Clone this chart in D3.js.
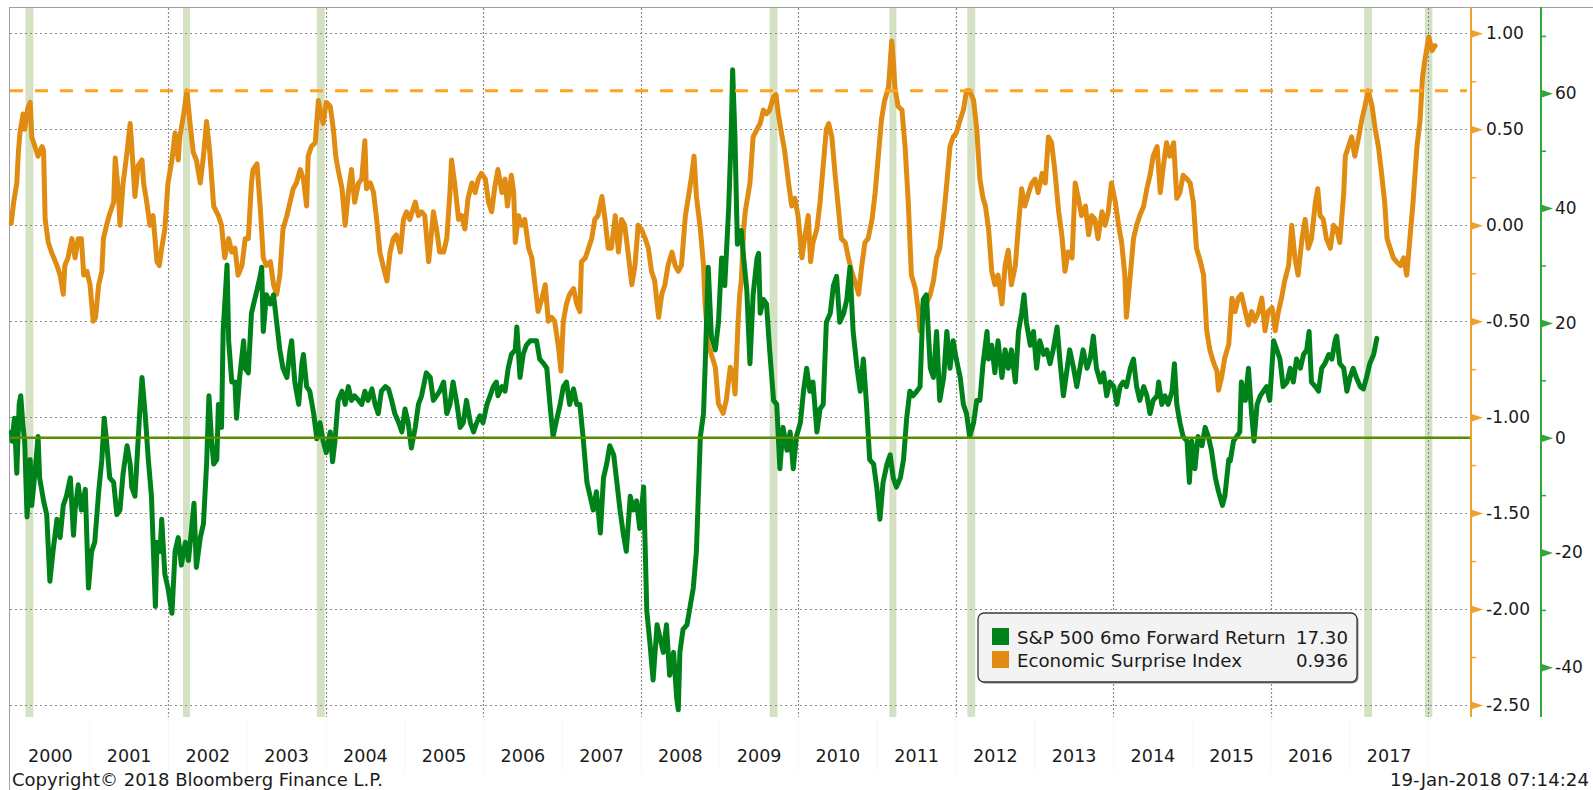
<!DOCTYPE html>
<html><head><meta charset="utf-8">
<script src="https://cdn.jsdelivr.net/npm/d3@7"></script>
<style>
html,body{margin:0;padding:0;background:#fff;overflow:hidden;}
svg{display:block;}
text{font-family:"DejaVu Sans",Verdana,sans-serif;}
</style></head><body>
<svg id="chart" width="1593" height="790"></svg>
<script>
// ---------- DATA ----------
const yearLabels = ["2000","2001","2002","2003","2004","2005","2006","2007","2008","2009","2010","2011","2012","2013","2014","2015","2016","2017"];
const esiTicks = [-2.5,-2.0,-1.5,-1.0,-0.5,0.0,0.5,1.0];
const esiMinor = [-2.25,-1.75,-1.25,-0.75,-0.25,0.25,0.75];
const spxTicks = [-40,-20,0,20,40,60];
const spxMinor = [-30,-10,10,30,50,70];
const gridYears = [2002,2004,2006,2008,2010,2012,2014,2016,2018];
const esiThreshold = 0.70;
const spxZero = 0;
// periods highlighted (decimal years)
const highlightBands = [[2000.19,2000.29],[2002.19,2002.28],[2003.89,2003.99],[2009.64,2009.74],[2011.16,2011.25],[2012.15,2012.25],[2017.19,2017.29],[2017.96,2018.055]];
const legendNames = ["S&P 500 6mo Forward Return","Economic Surprise Index"];
const legendValues = ["17.30","0.936"];
const footerLeft = "Copyright\u00A9 2018 Bloomberg Finance L.P.";
const footerRight = "19-Jan-2018 07:14:24";

// Economic Surprise Index [decimal year, value]
const esi = [[2000.01,0.01],[2000.04,0.12],[2000.08,0.22],[2000.10,0.38],[2000.12,0.48],[2000.16,0.58],[2000.18,0.50],[2000.22,0.61],[2000.25,0.64],[2000.27,0.46],[2000.31,0.41],[2000.35,0.36],[2000.40,0.41],[2000.42,0.39],[2000.44,0.03],[2000.48,-0.09],[2000.52,-0.14],[2000.59,-0.21],[2000.63,-0.26],[2000.67,-0.36],[2000.69,-0.21],[2000.73,-0.17],[2000.78,-0.07],[2000.82,-0.17],[2000.86,-0.07],[2000.90,-0.07],[2000.93,-0.26],[2000.97,-0.24],[2001.01,-0.31],[2001.05,-0.50],[2001.08,-0.48],[2001.12,-0.31],[2001.16,-0.24],[2001.18,-0.07],[2001.22,0.00],[2001.26,0.06],[2001.31,0.12],[2001.33,0.35],[2001.37,0.17],[2001.39,0.00],[2001.43,0.22],[2001.48,0.38],[2001.52,0.53],[2001.54,0.41],[2001.58,0.15],[2001.62,0.31],[2001.67,0.34],[2001.69,0.22],[2001.73,0.12],[2001.77,0.00],[2001.81,0.05],[2001.86,-0.19],[2001.89,-0.21],[2001.92,-0.12],[2001.96,-0.02],[2002.00,0.22],[2002.05,0.34],[2002.09,0.48],[2002.13,0.34],[2002.15,0.46],[2002.20,0.58],[2002.24,0.70],[2002.28,0.53],[2002.32,0.38],[2002.36,0.34],[2002.41,0.22],[2002.45,0.36],[2002.49,0.54],[2002.53,0.38],[2002.58,0.10],[2002.64,0.05],[2002.68,0.00],[2002.72,-0.17],[2002.77,-0.07],[2002.81,-0.14],[2002.85,-0.12],[2002.89,-0.26],[2002.94,-0.21],[2002.98,-0.07],[2003.02,-0.07],[2003.06,0.22],[2003.08,0.29],[2003.13,0.32],[2003.17,0.10],[2003.21,-0.17],[2003.25,-0.21],[2003.30,-0.19],[2003.34,-0.31],[2003.38,-0.36],[2003.42,-0.26],[2003.46,-0.02],[2003.51,0.05],[2003.55,0.12],[2003.59,0.19],[2003.63,0.22],[2003.68,0.29],[2003.72,0.24],[2003.76,0.10],[2003.78,0.36],[2003.82,0.41],[2003.87,0.43],[2003.91,0.65],[2003.94,0.58],[2003.97,0.53],[2004.01,0.64],[2004.06,0.62],[2004.10,0.50],[2004.13,0.36],[2004.16,0.29],[2004.21,0.19],[2004.25,0.00],[2004.29,0.17],[2004.33,0.29],[2004.37,0.12],[2004.42,0.22],[2004.46,0.24],[2004.50,0.44],[2004.52,0.19],[2004.57,0.22],[2004.61,0.17],[2004.65,0.03],[2004.69,-0.14],[2004.73,-0.21],[2004.78,-0.29],[2004.82,-0.14],[2004.86,-0.07],[2004.90,-0.05],[2004.95,-0.14],[2004.99,0.03],[2005.03,0.07],[2005.07,0.03],[2005.14,0.12],[2005.18,0.05],[2005.22,0.07],[2005.26,0.05],[2005.31,-0.19],[2005.35,-0.02],[2005.37,0.07],[2005.41,-0.02],[2005.45,-0.14],[2005.50,-0.14],[2005.54,-0.07],[2005.58,0.17],[2005.60,0.34],[2005.64,0.22],[2005.69,0.03],[2005.73,0.05],[2005.77,-0.02],[2005.81,0.14],[2005.86,0.22],[2005.90,0.17],[2005.94,0.24],[2005.98,0.27],[2006.03,0.24],[2006.07,0.12],[2006.11,0.07],[2006.15,0.20],[2006.19,0.29],[2006.24,0.17],[2006.28,0.24],[2006.31,0.10],[2006.36,0.26],[2006.39,0.17],[2006.41,-0.09],[2006.45,0.05],[2006.49,0.00],[2006.53,0.03],[2006.58,-0.12],[2006.62,-0.17],[2006.66,-0.31],[2006.70,-0.45],[2006.75,-0.38],[2006.79,-0.31],[2006.83,-0.50],[2006.87,-0.48],[2006.91,-0.50],[2006.96,-0.64],[2006.99,-0.76],[2007.02,-0.50],[2007.06,-0.41],[2007.10,-0.36],[2007.15,-0.33],[2007.19,-0.41],[2007.23,-0.45],[2007.25,-0.19],[2007.30,-0.17],[2007.34,-0.12],[2007.38,-0.07],[2007.42,0.03],[2007.46,0.05],[2007.51,0.15],[2007.55,0.03],[2007.59,-0.12],[2007.63,-0.12],[2007.68,0.05],[2007.72,-0.14],[2007.76,0.03],[2007.80,0.00],[2007.85,-0.17],[2007.89,-0.31],[2007.93,-0.21],[2007.97,0.00],[2008.01,-0.02],[2008.06,-0.07],[2008.10,-0.12],[2008.14,-0.24],[2008.18,-0.29],[2008.23,-0.48],[2008.27,-0.36],[2008.31,-0.31],[2008.35,-0.21],[2008.40,-0.14],[2008.44,-0.21],[2008.48,-0.24],[2008.52,-0.21],[2008.57,0.05],[2008.61,0.15],[2008.65,0.26],[2008.68,0.36],[2008.71,0.15],[2008.76,-0.02],[2008.80,-0.21],[2008.82,-0.41],[2008.86,-0.62],[2008.95,-0.74],[2008.99,-0.93],[2009.05,-0.98],[2009.09,-0.91],[2009.14,-0.74],[2009.18,-0.79],[2009.20,-0.88],[2009.24,-0.50],[2009.26,-0.36],[2009.28,-0.29],[2009.31,-0.02],[2009.33,0.07],[2009.35,0.12],[2009.39,0.22],[2009.43,0.46],[2009.48,0.50],[2009.52,0.53],[2009.56,0.60],[2009.60,0.58],[2009.64,0.60],[2009.69,0.67],[2009.72,0.68],[2009.75,0.58],[2009.79,0.48],[2009.83,0.39],[2009.88,0.22],[2009.92,0.10],[2009.96,0.14],[2010.00,0.05],[2010.05,-0.17],[2010.09,-0.05],[2010.13,0.05],[2010.16,-0.19],[2010.19,-0.09],[2010.24,-0.02],[2010.28,0.12],[2010.32,0.31],[2010.36,0.50],[2010.39,0.53],[2010.43,0.46],[2010.47,0.27],[2010.51,0.10],[2010.55,-0.07],[2010.60,-0.09],[2010.64,-0.17],[2010.68,-0.24],[2010.72,-0.29],[2010.77,-0.36],[2010.81,-0.21],[2010.85,-0.09],[2010.89,-0.07],[2010.94,0.03],[2010.98,0.17],[2011.02,0.36],[2011.06,0.55],[2011.10,0.65],[2011.15,0.72],[2011.19,0.96],[2011.21,0.86],[2011.23,0.72],[2011.27,0.62],[2011.32,0.60],[2011.36,0.41],[2011.40,0.12],[2011.44,-0.26],[2011.49,-0.33],[2011.53,-0.45],[2011.55,-0.55],[2011.59,-0.41],[2011.63,-0.41],[2011.68,-0.36],[2011.72,-0.29],[2011.76,-0.17],[2011.80,-0.12],[2011.85,0.05],[2011.89,0.22],[2011.93,0.41],[2011.97,0.46],[2012.01,0.48],[2012.06,0.55],[2012.10,0.60],[2012.14,0.70],[2012.18,0.70],[2012.23,0.65],[2012.27,0.50],[2012.31,0.24],[2012.35,0.14],[2012.38,0.10],[2012.42,-0.02],[2012.46,-0.24],[2012.50,-0.31],[2012.54,-0.26],[2012.59,-0.41],[2012.63,-0.21],[2012.67,-0.13],[2012.71,-0.31],[2012.76,-0.21],[2012.80,0.00],[2012.84,0.19],[2012.88,0.10],[2012.93,0.17],[2012.97,0.22],[2013.01,0.24],[2013.05,0.17],[2013.10,0.27],[2013.14,0.22],[2013.18,0.46],[2013.22,0.43],[2013.26,0.29],[2013.31,0.07],[2013.35,-0.05],[2013.39,-0.24],[2013.43,-0.14],[2013.48,-0.17],[2013.52,0.22],[2013.56,0.14],[2013.60,0.05],[2013.65,0.10],[2013.69,-0.05],[2013.73,0.05],[2013.77,0.03],[2013.81,-0.07],[2013.86,0.07],[2013.90,0.00],[2013.94,0.07],[2013.98,0.22],[2014.03,0.12],[2014.07,0.00],[2014.11,-0.09],[2014.15,-0.26],[2014.17,-0.48],[2014.22,-0.26],[2014.26,-0.07],[2014.30,0.00],[2014.34,0.05],[2014.39,0.10],[2014.43,0.19],[2014.47,0.26],[2014.51,0.36],[2014.56,0.41],[2014.60,0.17],[2014.64,0.31],[2014.68,0.43],[2014.72,0.36],[2014.77,0.43],[2014.81,0.14],[2014.85,0.17],[2014.89,0.26],[2014.94,0.24],[2014.98,0.22],[2015.02,0.12],[2015.06,-0.12],[2015.11,-0.19],[2015.15,-0.26],[2015.19,-0.55],[2015.23,-0.65],[2015.28,-0.72],[2015.32,-0.76],[2015.34,-0.86],[2015.38,-0.79],[2015.42,-0.69],[2015.47,-0.62],[2015.51,-0.38],[2015.55,-0.45],[2015.59,-0.38],[2015.63,-0.36],[2015.68,-0.45],[2015.72,-0.52],[2015.76,-0.45],[2015.80,-0.50],[2015.85,-0.45],[2015.89,-0.38],[2015.93,-0.55],[2015.97,-0.45],[2016.02,-0.43],[2016.06,-0.55],[2016.10,-0.45],[2016.14,-0.38],[2016.18,-0.29],[2016.23,-0.21],[2016.27,0.00],[2016.31,-0.17],[2016.35,-0.26],[2016.40,-0.07],[2016.44,0.03],[2016.48,-0.12],[2016.52,-0.07],[2016.57,0.12],[2016.60,0.19],[2016.63,0.05],[2016.67,0.03],[2016.71,-0.07],[2016.76,-0.12],[2016.80,0.00],[2016.84,-0.02],[2016.88,-0.09],[2016.93,0.17],[2016.95,0.36],[2016.99,0.41],[2017.03,0.46],[2017.07,0.36],[2017.12,0.46],[2017.16,0.55],[2017.20,0.62],[2017.24,0.70],[2017.29,0.62],[2017.33,0.50],[2017.37,0.41],[2017.41,0.27],[2017.45,0.12],[2017.48,-0.07],[2017.52,-0.12],[2017.56,-0.17],[2017.60,-0.19],[2017.65,-0.21],[2017.69,-0.17],[2017.73,-0.26],[2017.77,-0.07],[2017.81,0.12],[2017.86,0.41],[2017.90,0.55],[2017.93,0.77],[2017.96,0.86],[2018.01,0.98],[2018.05,0.91],[2018.09,0.936]];

// S&P 500 6-month forward return [decimal year, %]
const spx = [[2000.01,1.0],[2000.02,-0.6],[2000.05,3.4],[2000.08,-6.2],[2000.11,5.8],[2000.13,7.3],[2000.16,1.8],[2000.18,-0.6],[2000.21,-13.8],[2000.25,-3.8],[2000.27,-11.8],[2000.31,-6.2],[2000.35,0.2],[2000.37,-7.0],[2000.42,-11.0],[2000.46,-13.4],[2000.50,-25.0],[2000.54,-19.8],[2000.59,-14.2],[2000.63,-17.4],[2000.67,-11.8],[2000.71,-10.2],[2000.76,-7.0],[2000.80,-17.0],[2000.82,-12.6],[2000.86,-8.2],[2000.90,-12.6],[2000.95,-9.0],[2000.99,-26.2],[2001.03,-19.8],[2001.07,-18.2],[2001.12,-9.4],[2001.16,-3.8],[2001.19,3.4],[2001.22,-0.6],[2001.26,-7.0],[2001.31,-7.8],[2001.35,-13.4],[2001.39,-12.6],[2001.43,-6.2],[2001.48,-1.4],[2001.52,-4.6],[2001.54,-8.6],[2001.58,-10.2],[2001.62,-0.6],[2001.64,4.2],[2001.67,10.5],[2001.71,4.2],[2001.75,-3.8],[2001.79,-10.2],[2001.84,-29.4],[2001.86,-18.2],[2001.90,-19.8],[2001.92,-14.2],[2001.96,-23.8],[2002.00,-26.2],[2002.05,-30.6],[2002.09,-19.8],[2002.13,-17.4],[2002.17,-22.2],[2002.22,-18.2],[2002.26,-21.4],[2002.30,-15.8],[2002.33,-11.4],[2002.36,-22.6],[2002.41,-17.4],[2002.45,-15.0],[2002.49,-4.6],[2002.52,7.3],[2002.55,0.2],[2002.58,-4.6],[2002.62,-3.8],[2002.64,5.8],[2002.68,1.8],[2002.70,18.5],[2002.75,30.1],[2002.77,16.9],[2002.81,9.7],[2002.85,9.7],[2002.87,3.4],[2002.91,10.5],[2002.96,16.9],[2002.98,12.1],[2003.02,11.3],[2003.06,21.7],[2003.10,24.0],[2003.13,25.7],[2003.17,28.1],[2003.19,29.7],[2003.21,18.5],[2003.25,24.9],[2003.30,23.3],[2003.34,24.9],[2003.38,20.1],[2003.42,15.3],[2003.46,12.1],[2003.51,10.5],[2003.55,15.3],[2003.57,16.9],[2003.61,9.7],[2003.66,5.8],[2003.70,12.9],[2003.72,14.5],[2003.76,8.9],[2003.80,8.1],[2003.85,4.2],[2003.89,-0.2],[2003.93,2.6],[2003.97,-0.6],[2004.01,-2.6],[2004.06,1.0],[2004.09,-4.2],[2004.12,-0.6],[2004.16,6.5],[2004.21,8.1],[2004.25,5.8],[2004.29,8.9],[2004.33,6.5],[2004.37,7.3],[2004.42,6.5],[2004.46,5.8],[2004.50,8.1],[2004.54,6.5],[2004.59,8.5],[2004.63,5.8],[2004.67,4.2],[2004.71,8.1],[2004.76,8.9],[2004.80,8.5],[2004.84,6.5],[2004.88,4.2],[2004.93,2.6],[2004.97,1.0],[2005.01,5.0],[2005.05,2.6],[2005.09,-1.8],[2005.14,1.8],[2005.18,5.8],[2005.22,7.3],[2005.28,11.3],[2005.33,10.5],[2005.37,6.5],[2005.41,7.3],[2005.45,8.1],[2005.50,9.7],[2005.54,4.2],[2005.58,5.8],[2005.62,9.7],[2005.67,5.8],[2005.71,1.8],[2005.75,2.6],[2005.79,6.5],[2005.84,2.6],[2005.88,1.0],[2005.92,2.6],[2005.96,3.8],[2006.00,2.6],[2006.05,5.8],[2006.09,7.3],[2006.13,8.9],[2006.17,9.7],[2006.19,7.3],[2006.24,8.9],[2006.28,8.1],[2006.32,12.1],[2006.36,14.5],[2006.41,15.3],[2006.43,19.3],[2006.47,10.5],[2006.51,14.5],[2006.55,16.1],[2006.60,16.9],[2006.64,16.9],[2006.68,16.9],[2006.72,13.7],[2006.77,12.9],[2006.81,12.1],[2006.85,5.8],[2006.89,0.2],[2006.94,3.4],[2006.98,5.8],[2007.02,8.9],[2007.06,9.7],[2007.10,5.8],[2007.15,8.5],[2007.19,5.8],[2007.23,5.8],[2007.27,0.2],[2007.32,-7.8],[2007.36,-10.2],[2007.40,-12.6],[2007.44,-9.4],[2007.49,-16.6],[2007.53,-7.0],[2007.57,-4.6],[2007.61,-1.4],[2007.66,-3.0],[2007.70,-7.8],[2007.74,-12.6],[2007.78,-16.6],[2007.82,-19.8],[2007.87,-10.2],[2007.91,-12.6],[2007.95,-11.0],[2007.99,-15.8],[2008.04,-8.6],[2008.08,-30.2],[2008.12,-35.8],[2008.16,-42.2],[2008.21,-32.6],[2008.25,-35.0],[2008.29,-37.4],[2008.33,-32.6],[2008.37,-41.4],[2008.42,-37.4],[2008.46,-45.4],[2008.48,-47.4],[2008.50,-37.4],[2008.54,-33.4],[2008.59,-32.6],[2008.63,-29.4],[2008.67,-26.2],[2008.71,-19.8],[2008.76,0.2],[2008.80,4.2],[2008.82,12.1],[2008.86,29.7],[2008.90,17.7],[2008.95,15.3],[2008.99,20.1],[2009.03,31.3],[2009.07,26.5],[2009.12,40.1],[2009.15,52.1],[2009.17,64.1],[2009.20,52.1],[2009.23,33.7],[2009.26,34.5],[2009.28,36.1],[2009.31,31.3],[2009.35,25.7],[2009.39,12.9],[2009.43,24.9],[2009.48,31.3],[2009.50,32.1],[2009.52,21.7],[2009.56,24.1],[2009.60,23.3],[2009.64,15.3],[2009.69,6.5],[2009.73,5.8],[2009.77,-5.4],[2009.81,1.8],[2009.86,-2.2],[2009.90,1.0],[2009.94,-5.4],[2009.98,0.2],[2010.03,2.6],[2010.07,8.1],[2010.11,12.1],[2010.15,8.1],[2010.19,9.7],[2010.24,1.0],[2010.28,5.0],[2010.32,5.8],[2010.36,20.1],[2010.41,21.7],[2010.45,26.5],[2010.49,28.1],[2010.53,20.1],[2010.58,21.7],[2010.62,24.1],[2010.66,29.7],[2010.70,18.5],[2010.75,12.1],[2010.79,8.1],[2010.83,13.7],[2010.87,5.8],[2010.91,-3.8],[2010.96,-4.6],[2011.00,-8.6],[2011.04,-14.2],[2011.08,-7.8],[2011.13,-4.6],[2011.17,-3.0],[2011.21,-7.0],[2011.25,-8.6],[2011.30,-7.0],[2011.34,-3.8],[2011.38,3.4],[2011.42,8.1],[2011.46,7.3],[2011.51,8.1],[2011.55,8.9],[2011.59,24.1],[2011.63,24.9],[2011.68,12.1],[2011.72,10.5],[2011.76,18.5],[2011.80,6.5],[2011.85,10.5],[2011.89,18.5],[2011.93,12.1],[2011.97,16.9],[2012.01,13.7],[2012.06,10.5],[2012.10,5.8],[2012.14,4.2],[2012.18,0.2],[2012.23,2.6],[2012.27,6.5],[2012.31,6.5],[2012.35,12.9],[2012.40,18.5],[2012.42,13.7],[2012.46,16.1],[2012.50,11.3],[2012.54,16.9],[2012.59,10.5],[2012.63,15.3],[2012.67,12.1],[2012.71,15.3],[2012.76,9.7],[2012.80,18.5],[2012.84,21.7],[2012.87,24.9],[2012.90,20.1],[2012.95,16.1],[2012.99,18.5],[2013.03,12.1],[2013.07,16.9],[2013.12,14.5],[2013.16,15.3],[2013.20,12.9],[2013.24,15.3],[2013.29,19.3],[2013.33,12.9],[2013.37,7.3],[2013.41,11.3],[2013.45,15.3],[2013.50,12.1],[2013.54,8.9],[2013.58,12.1],[2013.62,15.3],[2013.67,12.1],[2013.71,13.7],[2013.75,17.7],[2013.79,12.1],[2013.84,9.7],[2013.88,11.3],[2013.92,7.3],[2013.96,9.7],[2014.01,8.9],[2014.05,5.8],[2014.09,8.9],[2014.13,9.7],[2014.17,8.9],[2014.22,12.1],[2014.26,13.7],[2014.30,8.9],[2014.34,6.5],[2014.39,8.9],[2014.43,7.3],[2014.47,4.2],[2014.51,6.5],[2014.56,7.3],[2014.58,9.7],[2014.62,5.8],[2014.66,7.3],[2014.70,5.8],[2014.75,8.1],[2014.78,12.9],[2014.81,5.8],[2014.85,2.6],[2014.89,0.2],[2014.94,-0.6],[2014.97,-7.8],[2015.00,-0.6],[2015.04,-5.4],[2015.08,0.2],[2015.13,-1.4],[2015.17,1.8],[2015.21,0.2],[2015.25,-2.2],[2015.30,-7.0],[2015.34,-9.4],[2015.39,-11.8],[2015.42,-10.2],[2015.47,-3.8],[2015.49,-4.0],[2015.53,-0.6],[2015.57,0.2],[2015.61,1.0],[2015.63,9.7],[2015.68,6.5],[2015.72,12.1],[2015.76,4.2],[2015.79,-0.6],[2015.83,5.8],[2015.87,7.3],[2015.91,8.1],[2015.95,8.9],[2015.99,6.5],[2016.04,16.9],[2016.08,15.3],[2016.12,13.7],[2016.16,8.9],[2016.21,9.7],[2016.25,12.1],[2016.29,9.7],[2016.33,13.7],[2016.38,12.1],[2016.42,14.5],[2016.46,15.3],[2016.49,18.5],[2016.52,9.7],[2016.57,8.9],[2016.61,8.1],[2016.65,12.1],[2016.69,12.9],[2016.74,14.5],[2016.78,13.7],[2016.82,16.9],[2016.84,17.7],[2016.88,12.9],[2016.93,12.1],[2016.97,8.1],[2017.01,10.5],[2017.05,12.1],[2017.09,10.5],[2017.14,8.9],[2017.18,8.5],[2017.22,10.5],[2017.26,12.9],[2017.31,14.5],[2017.35,17.3]];

// ---------- STYLE ----------
const C = {
  esi:"#e08c12", spx:"#00821a", esiAxis:"#f0a030", spxAxis:"#2ea836",
  band:"#d4e1c3", grid:"#8a8a8a", zero:"#5a8c00", thresh:"#ffa31a", text:"#1b1b1b", frame:"#a0a0a0"
};
const svg = d3.select("#chart");
const P = {left:10, right:1471, top:7, bottom:717};

const x = d3.scaleLinear().domain([2000, 2018.546]).range([10.5, 1471]);
const yL = d3.scaleLinear().domain([-2.5, 1]).range([705, 33.3]);
const yR = d3.scaleLinear().domain([-40, 60]).range([667.3, 93.3]);

// frame
svg.append("line").attr("x1",9).attr("x2",1593).attr("y1",7.5).attr("y2",7.5).attr("stroke",C.frame);
svg.append("line").attr("x1",9.5).attr("x2",9.5).attr("y1",7).attr("y2",790).attr("stroke",C.frame);

// highlight bands
svg.append("g").selectAll("rect").data(highlightBands).join("rect")
  .attr("x", d => x(d[0])).attr("width", d => x(d[1]) - x(d[0]))
  .attr("y", P.top+1).attr("height", P.bottom - P.top - 1)
  .attr("fill", C.band);

// faint year separators in label area
const sep = svg.append("g").attr("transform",`translate(0,${P.bottom})`)
  .call(d3.axisBottom(x).tickValues(d3.range(2001, 2019)).tickSize(55).tickFormat(""));
sep.select(".domain").remove();
sep.selectAll("line").attr("stroke","#f7f7f7");

// grid
svg.append("g").selectAll("line").data(esiTicks).join("line")
  .attr("x1", P.left).attr("x2", P.right).attr("y1", d => Math.round(yL(d))+0.5).attr("y2", d => Math.round(yL(d))+0.5)
  .attr("stroke", C.grid).attr("stroke-width",1).attr("stroke-dasharray","2,3");
svg.append("g").selectAll("line").data(gridYears).join("line")
  .attr("x1", d => Math.round(x(d))+0.5).attr("x2", d => Math.round(x(d))+0.5).attr("y1", P.top+1).attr("y2", P.bottom)
  .attr("stroke", C.grid).attr("stroke-width",1.2).attr("stroke-dasharray","2,2");

// series
const lineL = d3.line().x(d => x(d[0])).y(d => yL(d[1]));
const lineR = d3.line().x(d => x(d[0])).y(d => yR(d[1]));
svg.append("path").datum(esi).attr("d", lineL).attr("fill","none").attr("stroke",C.esi)
  .attr("stroke-width",5).attr("stroke-linejoin","round").attr("stroke-linecap","round");
svg.append("path").datum(spx).attr("d", lineR).attr("fill","none").attr("stroke",C.spx)
  .attr("stroke-width",5).attr("stroke-linejoin","round").attr("stroke-linecap","round");

// reference lines
svg.append("line").attr("x1",P.left).attr("x2",P.right).attr("y1",yR(spxZero)).attr("y2",yR(spxZero))
  .attr("stroke",C.zero).attr("stroke-width",2.4);
svg.append("line").attr("x1",P.left).attr("x2",P.right-4).attr("y1",yL(esiThreshold)).attr("y2",yL(esiThreshold))
  .attr("stroke",C.thresh).attr("stroke-width",3).attr("stroke-dasharray","13,12");

// axes
function styleAxis(g, color){
  g.select(".domain").remove();
  g.attr("font-family","DejaVu Sans, Verdana, sans-serif").attr("font-size",17);
  g.selectAll("text").attr("fill",C.text);
  g.selectAll(".tick line").remove();
  g.selectAll(".tick").append("path").attr("d","M0,-4L12,0L0,4Z").attr("fill",color);
}
svg.append("line").attr("x1",P.right).attr("x2",P.right).attr("y1",P.top).attr("y2",P.bottom).attr("stroke",C.esiAxis).attr("stroke-width",2);
const gL = svg.append("g").attr("transform",`translate(${P.right},0)`)
  .call(d3.axisRight(yL).tickValues(esiTicks).tickSize(0).tickPadding(15).tickFormat(d => d.toFixed(2)));
styleAxis(gL, C.esiAxis);
const gLm = svg.append("g").attr("transform",`translate(${P.right},0)`)
  .call(d3.axisRight(yL).tickValues(esiMinor).tickSize(5).tickFormat(""));
gLm.select(".domain").remove(); gLm.selectAll("line").attr("stroke",C.esiAxis).attr("stroke-width",1.5);

const RX = 1541;
svg.append("line").attr("x1",RX).attr("x2",RX).attr("y1",P.top).attr("y2",P.bottom).attr("stroke",C.spxAxis).attr("stroke-width",2);
const gR = svg.append("g").attr("transform",`translate(${RX},0)`)
  .call(d3.axisRight(yR).tickValues(spxTicks).tickSize(0).tickPadding(14).tickFormat(d => String(d)));
styleAxis(gR, C.spxAxis);
const gRm = svg.append("g").attr("transform",`translate(${RX},0)`)
  .call(d3.axisRight(yR).tickValues(spxMinor.filter(v => yR(v) > P.top)).tickSize(5).tickFormat(""));
gRm.select(".domain").remove(); gRm.selectAll("line").attr("stroke",C.spxAxis).attr("stroke-width",1.5);

// year labels
const gX = svg.append("g").attr("transform",`translate(0,${P.bottom})`)
  .call(d3.axisBottom(x).tickValues(yearLabels.map(y => +y + 0.5)).tickSize(0).tickPadding(33)
    .tickFormat((d,i) => yearLabels[i]));
gX.select(".domain").remove();
gX.attr("font-family","DejaVu Sans, Verdana, sans-serif").attr("font-size",17.5);
gX.selectAll("text").attr("fill",C.text);

// legend
const lg = svg.append("g");
lg.append("rect").attr("x",979.5).attr("y",614.5).attr("width",379).attr("height",69).attr("rx",6).attr("fill","#8a8a8a");
lg.append("rect").attr("x",978).attr("y",613).attr("width",379).attr("height",69).attr("rx",6)
  .attr("fill","#f3f3f3").attr("stroke","#3a3a3a").attr("stroke-width",1.3);
const legColors = [C.spx, C.esi];
legendNames.forEach((name,i) => {
  const by = 644 + i*23;
  lg.append("rect").attr("x",992).attr("y",by-16).attr("width",17).attr("height",17).attr("fill",legColors[i]);
  lg.append("text").attr("x",1017).attr("y",by).attr("font-size",18.2).attr("fill",C.text).text(name);
  lg.append("text").attr("x",1348).attr("y",by).attr("font-size",18.2).attr("fill",C.text).attr("text-anchor","end").text(legendValues[i]);
});

// footer
svg.append("text").attr("x",12).attr("y",786).attr("font-size",18).attr("fill",C.text).text(footerLeft);
svg.append("text").attr("x",1589).attr("y",786).attr("font-size",18.2).attr("fill",C.text).attr("text-anchor","end").text(footerRight);
</script>
</body></html>
